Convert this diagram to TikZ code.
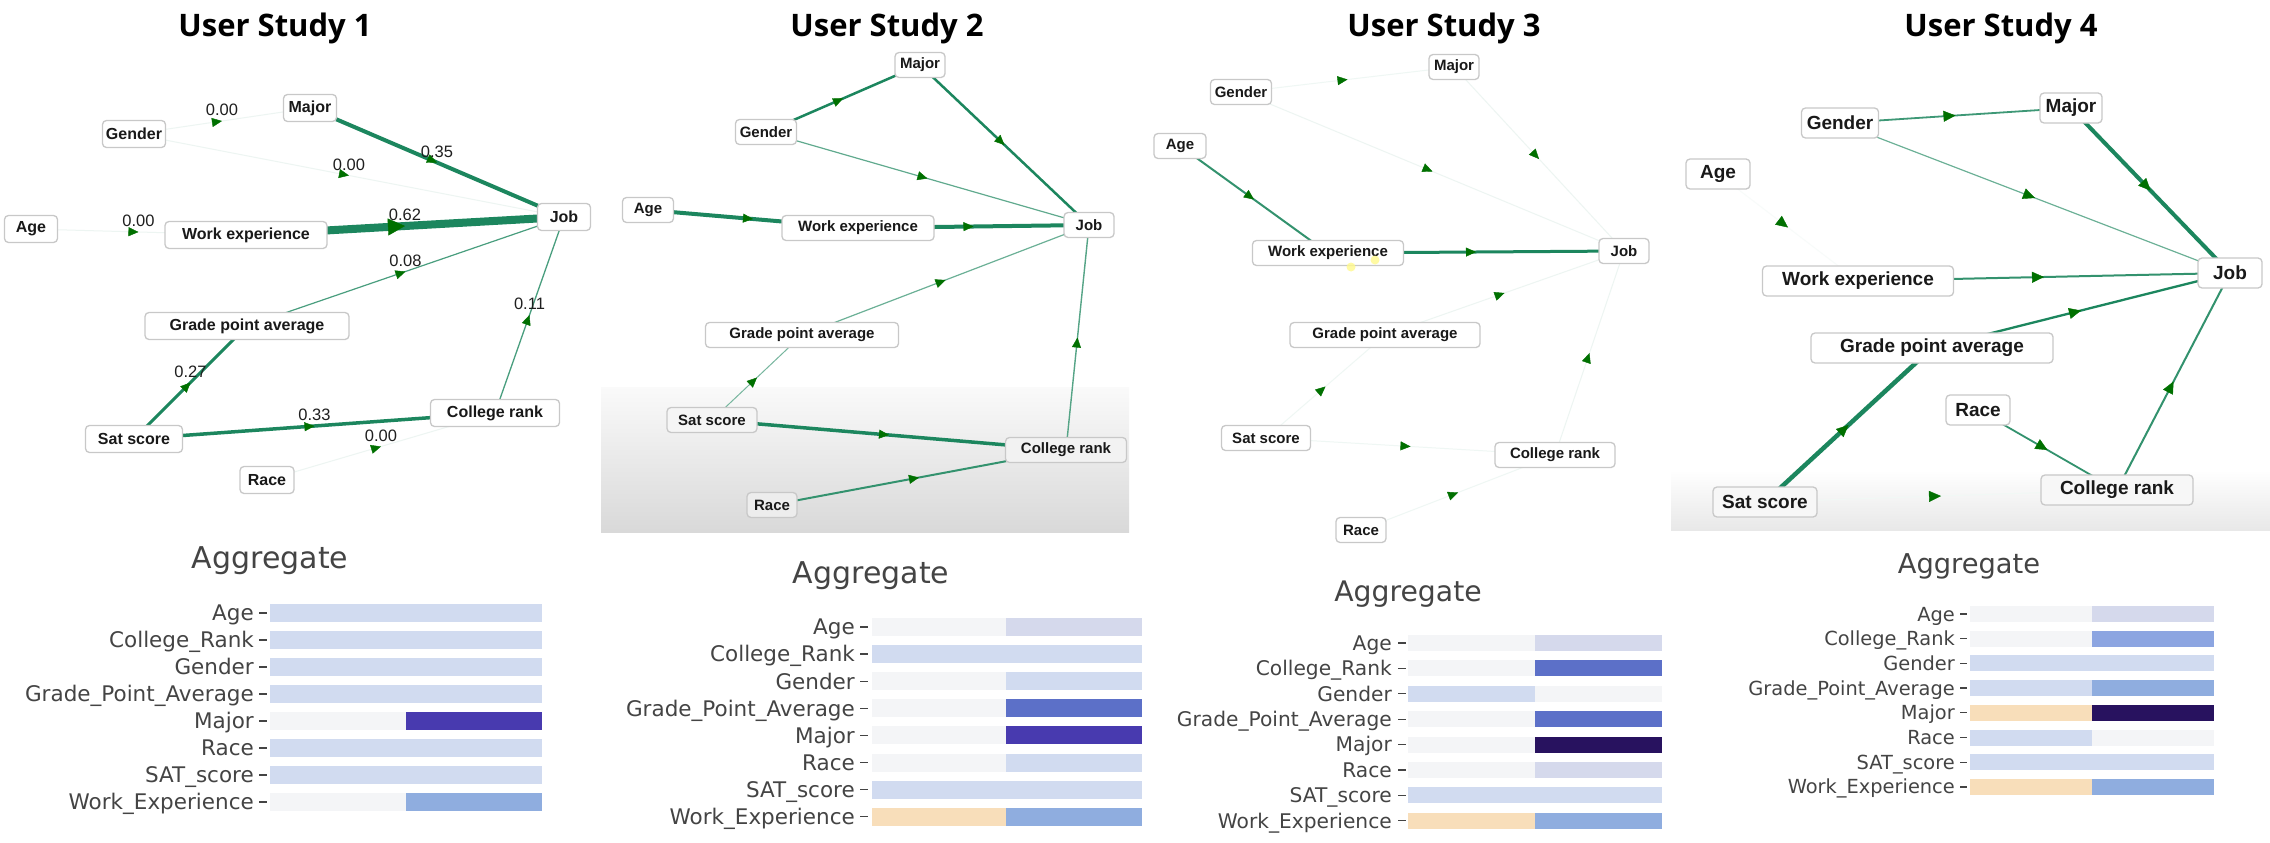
\documentclass[tikz,border=0pt]{standalone}
\usepackage{fontspec}
\usetikzlibrary{arrows.meta,decorations.markings}
\newfontfamily\nodefont{Liberation Sans}
\newfontfamily\titlefont{Open Sans}
\newfontfamily\chartfont{DejaVu Sans}
\definecolor{edgegreen}{RGB}{28,134,94}
\definecolor{arrowgreen}{RGB}{0,112,0}
\definecolor{nodeborder}{RGB}{200,200,200}
\definecolor{nodetext}{RGB}{25,25,25}
\definecolor{charttext}{RGB}{68,68,68}
\definecolor{hwhite}{RGB}{244,245,247}
\definecolor{hlight}{RGB}{209,219,240}
\definecolor{hlav}{RGB}{213,217,236}
\definecolor{hmid}{RGB}{143,173,223}
\definecolor{hstrong}{RGB}{92,112,200}
\definecolor{hindigo}{RGB}{72,58,175}
\definecolor{hdark}{RGB}{40,18,95}
\definecolor{hpeach}{RGB}{248,222,186}
\definecolor{hcr}{RGB}{140,165,225}
\colorlet{eg}{edgegreen}
\pgfdeclarelayer{bglayer}
\pgfdeclarelayer{edgelayer}
\pgfsetlayers{bglayer,edgelayer,main}
\tikzset{
  gnode/.style={draw=nodeborder, line width=1.3pt, rounded corners=4pt, fill=white, text=nodetext, inner sep=0pt},
  nA/.style={gnode, font=\nodefont\bfseries\fontsize{16}{16}\selectfont, minimum height=27pt, minimum width=#1pt},
  nB/.style={gnode, font=\nodefont\bfseries\fontsize{15}{15}\selectfont, minimum height=25pt, minimum width=#1pt},
  nC/.style={gnode, font=\nodefont\bfseries\fontsize{19}{19}\selectfont, minimum height=30pt, minimum width=#1pt},
  midarrow/.style 2 args={postaction={decorate,decoration={markings,mark=at position 0.5 with {\arrow[color=arrowgreen,line width=0.4pt]{Triangle[length=#1pt,width=#2pt]}}}}},
  ma/.style={midarrow={10}{9}},
  mb/.style={midarrow={12}{11}},
  elbl/.style={font=\nodefont\fontsize{16.5}{16.5}\selectfont, text=black!88, inner sep=0pt, yshift=11pt},
  ttl/.style={font=\titlefont\bfseries\fontsize{31}{31}\selectfont, text=black, anchor=base, inner sep=0pt},
  agg/.style={font=\chartfont\fontsize{#1}{#1}\selectfont, text=charttext, anchor=base, inner sep=0pt},
  rlab/.style={font=\chartfont\fontsize{#1}{#1}\selectfont, text=charttext, anchor=base east, inner sep=0pt},
  chtick/.style={draw=charttext, line width=1.3pt},
}
\begin{document}
\begin{tikzpicture}[x=1pt,y=-1pt]
\useasboundingbox (0,0) rectangle (2270,843);
\begin{pgfonlayer}{bglayer}
\fill[white] (0,0) rectangle (2270,843);
\shade[top color=white!98!black, bottom color=white!85!black] (601,387) rectangle (1129,532);
\shade[top color=white, bottom color=white!91!black] (1671,470) rectangle (2270,530);
\end{pgfonlayer}

% titles
\node[ttl] (t1) at (275,37) {User Study 1};
\node[ttl] (t2) at (887,37) {User Study 2};
\node[ttl] (t3) at (1444,37) {User Study 3};
\node[ttl] (t4) at (2001,37) {User Study 4};

% ---------- panel 1 ----------
\node[nA=53] (M1) at (310,108) {Major};
\node[nA=63] (G1) at (134,134) {Gender};
\node[nA=53] (A1) at (31,229) {Age};
\node[nA=162] (W1) at (246,235) {Work experience};
\node[nA=53] (J1) at (564,217) {Job};
\node[nA=204] (P1) at (247,326) {Grade point average};
\node[nA=97] (S1) at (134,439) {Sat score};
\node[nA=129] (C1) at (495,413) {College rank};
\node[nA=54] (R1) at (267,480) {Race};
\begin{pgfonlayer}{edgelayer}
\draw[draw=eg!8, line width=1pt, ma] (G1.center) -- node[elbl]{0.00} (M1.center);
\draw[draw=eg!8, line width=1pt, ma] (G1.center) -- node[elbl]{0.00} (J1.center);
\draw[draw=eg, line width=4pt, ma] (M1.center) -- node[elbl]{0.35} (J1.center);
\draw[draw=eg!8, line width=1pt, ma] (A1.center) -- node[elbl]{0.00} (W1.center);
\draw[draw=eg, line width=8pt, midarrow={17}{17}] (W1.center) -- node[elbl]{0.62} (J1.center);
\draw[draw=eg!80, line width=1.2pt, ma] (P1.center) -- node[elbl]{0.08} (J1.center);
\draw[draw=eg, line width=3pt, ma] (S1.center) -- node[elbl]{0.27} (P1.center);
\draw[draw=eg, line width=3.5pt, ma] (S1.center) -- node[elbl]{0.33} (C1.center);
\draw[draw=eg!8, line width=1pt, ma] (R1.center) -- node[elbl]{0.00} (C1.center);
\draw[draw=eg!80, line width=1.3pt, ma] (C1.center) -- node[elbl]{0.11} (J1.center);
\end{pgfonlayer}

% ---------- panel 2 ----------
\node[nB=50] (M2) at (920,65) {Major};
\node[nB=61] (G2) at (766,132) {Gender};
\node[nB=51] (A2) at (648,210) {Age};
\node[nB=152] (W2) at (858,228) {Work experience};
\node[nB=50] (J2) at (1089,225) {Job};
\node[nB=193] (P2) at (802,335) {Grade point average};
\node[nB=90, fill=white!96!black] (S2) at (712,420) {Sat score};
\node[nB=121, fill=white!95!black] (C2) at (1066,450) {College rank};
\node[nB=50, fill=white!93!black] (R2) at (772,505) {Race};
\begin{pgfonlayer}{edgelayer}
\draw[draw=eg, line width=2.5pt, ma] (G2.center) -- (M2.center);
\draw[draw=eg, line width=2.5pt, ma] (M2.center) -- (J2.center);
\draw[draw=eg!70, line width=1.2pt, ma] (G2.center) -- (J2.center);
\draw[draw=eg, line width=4pt, ma] (A2.center) -- (W2.center);
\draw[draw=eg, line width=4pt, ma] (W2.center) -- (J2.center);
\draw[draw=eg!65, line width=1.2pt, ma] (P2.center) -- (J2.center);
\draw[draw=eg!60, line width=1pt, ma] (S2.center) -- (P2.center);
\draw[draw=eg, line width=3.5pt, ma] (S2.center) -- (C2.center);
\draw[draw=eg!90, line width=2pt, ma] (R2.center) -- (C2.center);
\draw[draw=eg!75, line width=1.4pt, ma] (C2.center) -- (J2.center);
\end{pgfonlayer}

% ---------- panel 3 ----------
\node[nB=50] (M3) at (1454,67) {Major};
\node[nB=61] (G3) at (1241,92) {Gender};
\node[nB=52] (A3) at (1180,146) {Age};
\node[nB=151] (W3) at (1328,253) {Work experience};
\node[nB=50] (J3) at (1624,251) {Job};
\node[nB=190] (P3) at (1385,335) {Grade point average};
\node[nB=89] (S3) at (1266,438) {Sat score};
\node[nB=120] (C3) at (1555,455) {College rank};
\node[nB=50] (R3) at (1361,530) {Race};
\fill[yellow!45!white, opacity=0.8] (1351,267) circle (4.5);
\fill[yellow!45!white, opacity=0.8] (1375,260) circle (4.5);
\begin{pgfonlayer}{edgelayer}
\draw[draw=eg!7, line width=1pt, ma] (G3.center) -- (M3.center);
\draw[draw=eg!8, line width=1pt, ma] (M3.center) -- (J3.center);
\draw[draw=eg!8, line width=1pt, ma] (G3.center) -- (J3.center);
\draw[draw=eg!90, line width=2pt, ma] (A3.center) -- (W3.center);
\draw[draw=eg, line width=3pt, ma] (W3.center) -- (J3.center);
\draw[draw=eg!8, line width=1pt, ma] (P3.center) -- (J3.center);
\draw[draw=eg!7, line width=1pt, ma] (S3.center) -- (P3.center);
\draw[draw=eg!7, line width=1pt, ma] (S3.center) -- (C3.center);
\draw[draw=eg!7, line width=1pt, ma] (R3.center) -- (C3.center);
\draw[draw=eg!8, line width=1pt, ma] (C3.center) -- (J3.center);
\end{pgfonlayer}

% ---------- panel 4 ----------
\node[nC=62] (M4) at (2071,108) {Major};
\node[nC=77] (G4) at (1840,123) {Gender};
\node[nC=64] (A4) at (1718,174) {Age};
\node[nC=191] (W4) at (1858,281) {Work experience};
\node[nC=64] (J4) at (2230,273) {Job};
\node[nC=242] (P4) at (1932,348) {Grade point average};
\node[nC=104, fill=white!97!black] (S4) at (1765,502) {Sat score};
\node[nC=152, fill=white!97!black] (C4) at (2117,490) {College rank};
\node[nC=64] (R4) at (1978,410) {Race};
\begin{pgfonlayer}{edgelayer}
\draw[draw=eg!85, line width=1.8pt, mb] (G4.center) -- (M4.center);
\draw[draw=eg, line width=4pt, mb] (M4.center) -- (J4.center);
\draw[draw=eg!65, line width=1.2pt, mb] (G4.center) -- (J4.center);
\draw[draw=eg!3, line width=1pt, mb] (A4.center) -- (W4.center);
\draw[draw=eg!90, line width=2pt, mb] (W4.center) -- (J4.center);
\draw[draw=eg, line width=2.3pt, mb] (P4.center) -- (J4.center);
\draw[draw=eg, line width=4.5pt, mb] (S4.center) -- (P4.center);
\draw[draw=eg!90, line width=1.8pt, mb] (R4.center) -- (C4.center);
\draw[draw=eg!90, line width=2pt, mb] (C4.center) -- (J4.center);
\draw[draw=eg!6, line width=1pt, mb] (S4.center) -- (C4.center);
\end{pgfonlayer}

% ---------- charts ----------
\node[agg=30] (ag1) at (270,568) {Aggregate};
\foreach \i/\lab/\lc/\rc in {0/Age/hlight/hlight,1/College\_Rank/hlight/hlight,2/Gender/hlight/hlight,3/Grade\_Point\_Average/hlight/hlight,4/Major/hwhite/hindigo,5/Race/hlight/hlight,6/SAT\_score/hlight/hlight,7/Work\_Experience/hwhite/hmid}{
  \pgfmathsetmacro\yy{613+27*\i}
  \node[rlab=21.5] (ch1r\i) at (254,\yy+7.8) {\lab};
  \draw[chtick] (259,\yy) -- (267,\yy);
  \fill[\lc] (270,\yy-9) rectangle (406,\yy+9);
  \fill[\rc] (406,\yy-9) rectangle (542,\yy+9);
}
\node[agg=30] (ag2) at (871,583) {Aggregate};
\foreach \i/\lab/\lc/\rc in {0/Age/hwhite/hlav,1/College\_Rank/hlight/hlight,2/Gender/hwhite/hlight,3/Grade\_Point\_Average/hwhite/hstrong,4/Major/hwhite/hindigo,5/Race/hwhite/hlight,6/SAT\_score/hlight/hlight,7/Work\_Experience/hpeach/hmid}{
  \pgfmathsetmacro\yy{627+27.1*\i}
  \node[rlab=21.5] (ch2r\i) at (855,\yy+7.8) {\lab};
  \draw[chtick] (860,\yy) -- (868,\yy);
  \fill[\lc] (872,\yy-9) rectangle (1006,\yy+9);
  \fill[\rc] (1006,\yy-9) rectangle (1142,\yy+9);
}
\node[agg=28.3] (ag3) at (1408,601) {Aggregate};
\foreach \i/\lab/\lc/\rc in {0/Age/hwhite/hlav,1/College\_Rank/hwhite/hstrong,2/Gender/hlight/hwhite,3/Grade\_Point\_Average/hwhite/hstrong,4/Major/hwhite/hdark,5/Race/hwhite/hlav,6/SAT\_score/hlight/hlight,7/Work\_Experience/hpeach/hmid}{
  \pgfmathsetmacro\yy{643+25.4*\i}
  \node[rlab=20.2] (ch3r\i) at (1392,\yy+7.3) {\lab};
  \draw[chtick] (1398,\yy) -- (1406,\yy);
  \fill[\lc] (1408,\yy-8) rectangle (1535,\yy+8);
  \fill[\rc] (1535,\yy-8) rectangle (1662,\yy+8);
}
\node[agg=27.3] (ag4) at (1969,573) {Aggregate};
\foreach \i/\lab/\lc/\rc in {0/Age/hwhite/hlav,1/College\_Rank/hwhite/hcr,2/Gender/hlight/hlight,3/Grade\_Point\_Average/hlight/hmid,4/Major/hpeach/hdark,5/Race/hlight/hwhite,6/SAT\_score/hlight/hlight,7/Work\_Experience/hpeach/hmid}{
  \pgfmathsetmacro\yy{614+24.7*\i}
  \node[rlab=19.4] (ch4r\i) at (1955,\yy+7) {\lab};
  \draw[chtick] (1960,\yy) -- (1967,\yy);
  \fill[\lc] (1970,\yy-8) rectangle (2092,\yy+8);
  \fill[\rc] (2092,\yy-8) rectangle (2214,\yy+8);
}
\end{tikzpicture}
\end{document}
